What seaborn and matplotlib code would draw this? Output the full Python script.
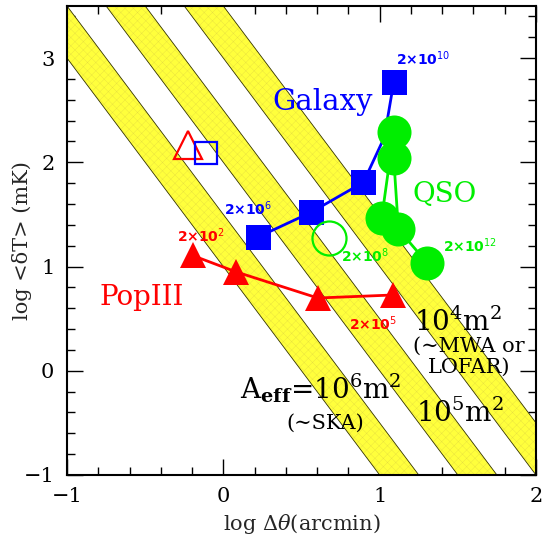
import numpy as np
import pandas as pd
import matplotlib
matplotlib.use("Agg")
import matplotlib.pyplot as plt
import seaborn as sns
from matplotlib.ticker import MultipleLocator

# ---------------- data ----------------
# sensitivity bands: log<dT> = intercept - 2*log(dtheta), band width 0.5 dex
band_area_labels = ["1e6", "1e5", "1e4"]
band_lower_intercept = [1.0, 2.0, 3.0]
band_width = 0.5
band_slope = -2.0

# Galaxy (blue squares) ; 4th vertex hidden behind QSO circles
galaxy_x = [0.222, 0.561, 0.896, 1.03, 1.090]
galaxy_y = [1.283, 1.520, 1.808, 2.24, 2.768]
galaxy_visible = [True, True, True, False, True]

# QSO (green filled circles)
qso_x = [1.013, 1.090, 1.090, 1.120, 1.306]
qso_y = [1.463, 2.294, 2.038, 1.357, 1.031]

# PopIII (red filled triangles)
pop_x = [-0.197, 0.079, 0.604, 1.088]
pop_y = [1.106, 0.950, 0.698, 0.727]

# open (unconnected) markers
open_tri = (-0.224, 2.169)
open_sq = (-0.114, 2.086)
open_circ = (0.676, 1.278)

# ---------------- style ----------------
sns.set_theme(style="ticks")
plt.rcParams["font.family"] = ["DejaVu Serif", "DejaVu Sans"]
plt.rcParams["mathtext.fontset"] = "dejavuserif"
plt.rcParams["hatch.linewidth"] = 0.25

fig = plt.figure(figsize=(5.42, 5.37), dpi=100)
ax = fig.add_axes([0.1236, 0.1155, 0.8653, 0.8734])

xx = np.array([-1.5, 2.5])
for lo in band_lower_intercept:
    ylo = lo + band_slope * xx
    yhi = ylo + band_width
    ax.fill_between(xx, ylo, yhi, facecolor="#ffff3c", edgecolor="#e4dc40",
                    hatch="xxxx", linewidth=0, zorder=1)
    ax.plot(xx, ylo, color="#333300", lw=0.6, zorder=1.5)
    ax.plot(xx, yhi, color="#333300", lw=0.6, zorder=1.5)

BLUE = "#0000ff"
GREEN = "#00ee00"
RED = "#ff0000"

gal = pd.DataFrame({"x": galaxy_x, "y": galaxy_y, "vis": galaxy_visible})
sns.lineplot(data=gal, x="x", y="y", sort=False, estimator=None, color=BLUE,
             lw=2.0, ax=ax, zorder=3)
sns.scatterplot(data=gal[gal["vis"]], x="x", y="y", marker="s", s=18**2,
                color=BLUE, linewidth=0, ax=ax, zorder=3.5)

qso = pd.DataFrame({"x": qso_x, "y": qso_y})
sns.lineplot(data=qso, x="x", y="y", sort=False, estimator=None, color=GREEN,
             lw=2.0, marker="o", markersize=24.5, markeredgewidth=0, ax=ax, zorder=4)

pop = pd.DataFrame({"x": pop_x, "y": pop_y})
sns.lineplot(data=pop, x="x", y="y", sort=False, estimator=None, color=RED,
             lw=2.0, marker="^", markersize=19, markeredgewidth=0, ax=ax, zorder=4)

sns.lineplot(x=[open_tri[0]], y=[open_tri[1]], marker="^", markersize=20,
             mfc="none", mec=RED, mew=1.6, ax=ax, zorder=4, linestyle="none")
sns.lineplot(x=[open_sq[0]], y=[open_sq[1]], marker="s", markersize=16.5,
             mfc="none", mec=BLUE, mew=1.6, ax=ax, zorder=4, linestyle="none")
sns.lineplot(x=[open_circ[0]], y=[open_circ[1]], marker="o", markersize=24.5,
             mfc="none", mec=GREEN, mew=1.6, ax=ax, zorder=4, linestyle="none")

# ---------------- text ----------------
big = 20
mid = 15
small = 10
ax.text(0.316, 2.502, "Galaxy", color=BLUE, fontsize=21, ha="left", va="baseline", zorder=6)
ax.text(1.212, 1.622, "QSO", color=GREEN, fontsize=20, ha="left", va="baseline", zorder=6)
ax.text(-0.789, 0.633, "PopIII", color=RED, fontsize=20, ha="left", va="baseline", zorder=6)

sk = dict(fontsize=small, ha="left", va="baseline", family="DejaVu Sans",
          fontweight="bold", zorder=6)
ax.text(1.105, 2.934, r"2×10$^{\mathsf{10}}$", color=BLUE, **sk)
ax.text(0.005, 1.494, r"2×10$^{\mathsf{6}}$", color=BLUE, **sk)
ax.text(-0.298, 1.235, r"2×10$^{\mathsf{2}}$", color=RED, **sk)
ax.text(0.753, 1.043, r"2×10$^{\mathsf{8}}$", color=GREEN, **sk)
ax.text(1.404, 1.139, r"2×10$^{\mathsf{12}}$", color=GREEN, **sk)
ax.text(0.806, 0.393, r"2×10$^{\mathsf{5}}$", color=RED, **sk)

ax.text(1.220, 0.381, r"10$^4$m$^2$", fontsize=big, color="black", ha="left", va="baseline", zorder=6)
ax.text(1.212, 0.186, "(∼MWA or", fontsize=mid, color="black", ha="left", va="baseline", zorder=6)
ax.text(1.308, -0.022, "LOFAR)", fontsize=mid, color="black", ha="left", va="baseline", zorder=6)
ax.text(0.107, -0.265, r"A$_{\mathbf{eff}}$=10$^6$m$^2$", fontsize=big, color="black",
        ha="left", va="baseline", zorder=6)
ax.text(0.406, -0.553, "(∼SKA)", fontsize=mid, color="black", ha="left", va="baseline", zorder=6)
ax.text(1.233, -0.492, r"10$^5$m$^2$", fontsize=big, color="black", ha="left", va="baseline", zorder=6)

# ---------------- axes ----------------
ax.set_xlim(-1, 2)
ax.set_ylim(-1, 3.5)
ax.set_xticks([-1, 0, 1, 2])
ax.set_yticks([-1, 0, 1, 2, 3])
ax.xaxis.set_minor_locator(MultipleLocator(0.2))
ax.yaxis.set_minor_locator(MultipleLocator(0.2))
ax.tick_params(which="both", direction="in", top=True, right=True, colors="black",
               labelsize=15)
ax.tick_params(which="major", length=11.5, width=1.0, pad=9)
ax.tick_params(which="minor", length=5.8, width=1.0)
for s in ax.spines.values():
    s.set_linewidth(1.5)
    s.set_color("black")
ax.set_xlabel(r"log $\Delta\theta$(arcmin)", fontsize=15)
ax.set_ylabel("log <δT> (mK)", fontsize=15)
ax.xaxis.set_label_coords(0.5, -0.078)
ax.yaxis.set_label_coords(-0.075, 0.5)
ax.set_facecolor("white")

fig.savefig("out.png", dpi=100)
